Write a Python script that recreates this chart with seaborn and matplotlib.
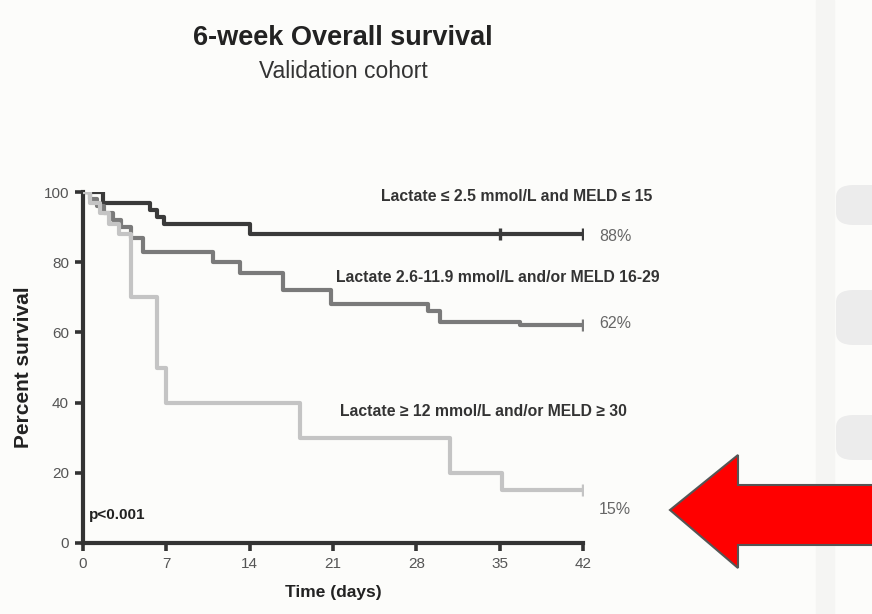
import matplotlib
matplotlib.use("Agg")
import matplotlib.pyplot as plt
from matplotlib.patches import Polygon, FancyBboxPatch, Rectangle
import numpy as np
import pandas as pd
import seaborn as sns

# Kaplan-Meier step data (days, percent surviving)
low_days = [0, 1.7, 5.6, 6.2, 6.8, 14, 42]
low_surv = [100, 97, 95, 93, 91, 88, 88]

mid_days = [0, 0.6, 1.2, 1.8, 2.5, 3.2, 4, 5, 10.9, 13.2, 16.8, 20.8, 29, 30, 36.7, 42]
mid_surv = [100, 98, 96, 94, 92, 90, 87, 83, 80, 77, 72, 68, 66, 63, 62, 62]

high_days = [0, 0.6, 1.4, 2.2, 3, 4, 6.2, 7, 18.2, 30.8, 35.2, 42]
high_surv = [100, 97, 94, 91, 88, 70, 50, 40, 30, 20, 15, 15]

# censored observations (day, percent)
low_censor = [(35, 88), (42, 88)]
mid_censor = [(42, 62)]
high_censor = [(42, 15)]

group_names = [
    "Lactate \u2264 2.5 mmol/L and MELD \u2264 15",
    "Lactate 2.6-11.9 mmol/L and/or MELD 16-29",
    "Lactate \u2265 12 mmol/L and/or MELD \u2265 30",
]
end_labels = ["88%", "62%", "15%"]
line_colors = ["#3a3a3a", "#7a7a7a", "#c4c4c4"]

x_ticks = [0, 7, 14, 21, 28, 35, 42]
y_ticks = [0, 20, 40, 60, 80, 100]

W, H = 872, 614
BG = "#fcfcfa"

sns.set_theme(style="ticks")
plt.rcParams["font.family"] = ["Liberation Sans", "DejaVu Sans"]

fig = plt.figure(figsize=(W / 100, H / 100), dpi=100, facecolor=BG)


def fx(x):
    return x / W


def fy(y):
    return 1 - y / H


ax = fig.add_axes([fx(83), fy(543), fx(583) - fx(83), fy(192) - fy(543)])
ax.set_facecolor(BG)

frames = []
for name, d, s in zip(group_names, [low_days, mid_days, high_days],
                      [low_surv, mid_surv, high_surv]):
    frames.append(pd.DataFrame({"day": d, "survival": s, "group": name}))
km = pd.concat(frames, ignore_index=True)

sns.lineplot(data=km, x="day", y="survival", hue="group",
             palette=dict(zip(group_names, line_colors)),
             estimator=None, sort=False, drawstyle="steps-post",
             linewidth=3.0, legend=False, ax=ax, zorder=3)

for cens, col in zip([low_censor, mid_censor, high_censor], line_colors):
    cx = [c[0] for c in cens]
    cy = [c[1] for c in cens]
    ax.scatter(cx, cy, marker="|", s=70, linewidths=2.4, color=col, zorder=4)

ax.set_xlim(0, 42)
ax.set_ylim(0, 100)
ax.set_xticks(x_ticks)
ax.set_yticks(y_ticks)
ax.tick_params(axis="both", direction="out", length=6, width=2.6,
               color="#333333", labelsize=11, labelcolor="#555555", pad=4)
for side in ["left", "bottom"]:
    ax.spines[side].set_linewidth(3.0)
    ax.spines[side].set_color("#333333")
sns.despine(ax=ax)
ax.set_xlabel("Time (days)", fontsize=12.5, fontweight="bold", color="#222222",
              labelpad=10)
ax.set_ylabel("Percent survival", fontsize=15, fontweight="bold",
              color="#222222", labelpad=8)

# group annotations and end-of-follow-up values
label_pos = [(652, 197), (660, 278), (627, 412)]
for name, (x, y) in zip(group_names, label_pos):
    fig.text(fx(x), fy(y), name, ha="right", va="center", fontsize=11.3,
             fontweight="bold", color="#333333")
end_y = [237, 323, 510]
for lab, y in zip(end_labels, end_y):
    fig.text(fx(599), fy(y), lab, ha="left", va="center", fontsize=11.5,
             color="#666666")
fig.text(fx(89), fy(515), "p<0.001", ha="left", va="center", fontsize=11,
         fontweight="bold", color="#222222")

# titles
fig.text(fx(343), fy(38), "6-week Overall survival", ha="center",
         va="center", fontsize=19.5, fontweight="bold", color="#222222")
fig.text(fx(343), fy(72), "Validation cohort", ha="center", va="center",
         fontsize=16.5, color="#333333")

# right-hand panel: divider band and grey stripes
fig.patches.append(Rectangle((fx(816), 0), fx(834) - fx(816), 1,
                             transform=fig.transFigure, color="#f5f5f3",
                             zorder=0))
for (y0, y1) in [(185, 225), (290, 345), (415, 460)]:
    fig.patches.append(FancyBboxPatch(
        (fx(836), fy(y1)), fx(900) - fx(836), fy(y0) - fy(y1),
        boxstyle="round,pad=0,rounding_size=0.02", transform=fig.transFigure,
        facecolor="#ececec", edgecolor="none", zorder=0))

# red arrow pointing left
arrow_px = [(670, 510), (738, 455), (738, 485), (880, 485), (880, 545),
            (738, 545), (738, 568)]
arrow = Polygon([(fx(x), fy(y)) for x, y in arrow_px], closed=True,
                transform=fig.transFigure, facecolor="#ff0000",
                edgecolor="#555555", linewidth=1.5, zorder=5)
fig.patches.append(arrow)

fig.savefig("out.png", dpi=100, facecolor=BG)
